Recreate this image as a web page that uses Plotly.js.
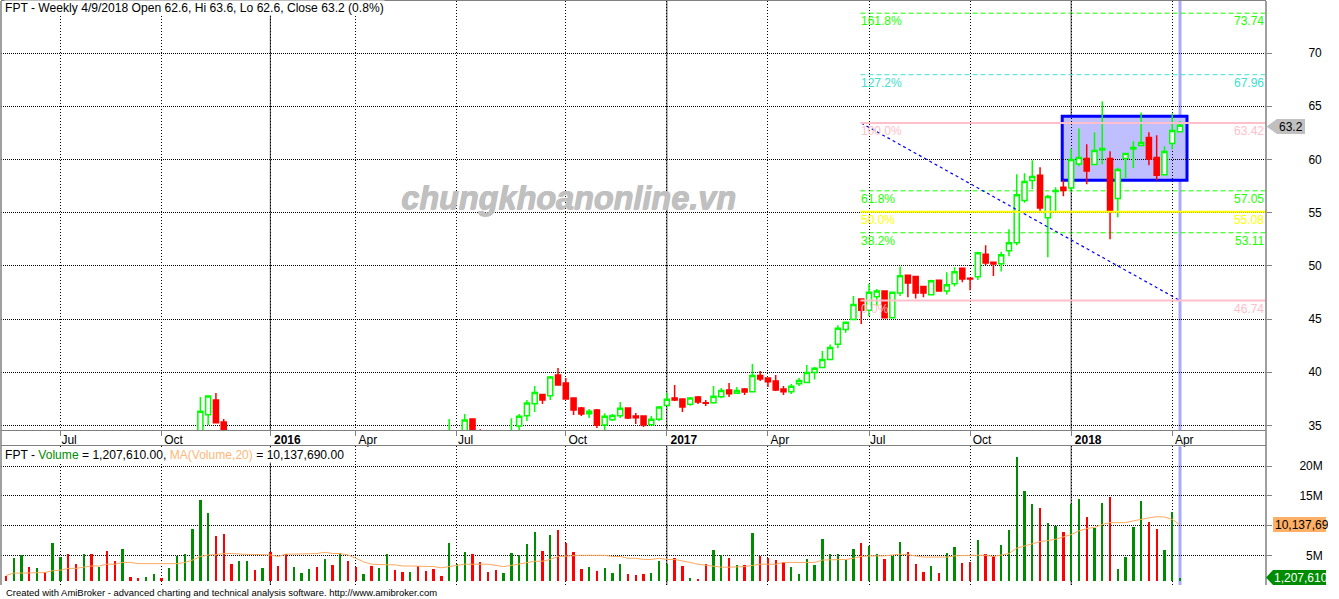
<!DOCTYPE html>
<html><head><meta charset="utf-8">
<script src="https://cdn.plot.ly/plotly-3.0.1.min.js"></script>
<style>html,body{margin:0;padding:0;background:#fff;overflow:hidden}#c{width:1339px;height:599px}</style>
</head><body><div id="c"></div>
<script>
const dates=['2015-05-11','2015-05-18','2015-05-25','2015-06-01','2015-06-08','2015-06-15','2015-06-22','2015-06-29','2015-07-06','2015-07-13','2015-07-20','2015-07-27','2015-08-03','2015-08-10','2015-08-17','2015-08-24','2015-08-31','2015-09-07','2015-09-14','2015-09-21','2015-09-28','2015-10-05','2015-10-12','2015-10-19','2015-10-26','2015-11-02','2015-11-09','2015-11-16','2015-11-23','2015-11-30','2015-12-07','2015-12-14','2015-12-21','2015-12-28',
'2016-01-04','2016-01-11','2016-01-18','2016-01-25','2016-02-01','2016-02-15','2016-02-22','2016-02-29','2016-03-07','2016-03-14','2016-03-21','2016-03-28','2016-04-04','2016-04-11','2016-04-18','2016-04-25','2016-05-02','2016-05-09','2016-05-16','2016-05-23','2016-05-30','2016-06-06','2016-06-13','2016-06-20','2016-06-27','2016-07-04','2016-07-11','2016-07-18','2016-07-25','2016-08-01','2016-08-08','2016-08-15','2016-08-22','2016-08-29','2016-09-05','2016-09-12','2016-09-19','2016-09-26','2016-10-03','2016-10-10','2016-10-17','2016-10-24','2016-10-31','2016-11-07','2016-11-14','2016-11-21','2016-11-28','2016-12-05','2016-12-12','2016-12-19','2016-12-26',
'2017-01-02','2017-01-09','2017-01-16','2017-01-23','2017-01-30','2017-02-06','2017-02-13','2017-02-20','2017-02-27','2017-03-06','2017-03-13','2017-03-20','2017-03-27','2017-04-03','2017-04-10','2017-04-17','2017-04-24','2017-05-01','2017-05-08','2017-05-15','2017-05-22','2017-05-29','2017-06-05','2017-06-12','2017-06-19','2017-06-26','2017-07-03','2017-07-10','2017-07-17','2017-07-24','2017-07-31','2017-08-07','2017-08-14','2017-08-21','2017-08-28','2017-09-04','2017-09-11','2017-09-18','2017-09-25','2017-10-02','2017-10-09','2017-10-16','2017-10-23','2017-10-30','2017-11-06','2017-11-13','2017-11-20','2017-11-27','2017-12-04','2017-12-11','2017-12-18','2017-12-25',
'2018-01-01','2018-01-08','2018-01-15','2018-01-22','2018-01-29','2018-02-05','2018-02-12','2018-02-19','2018-02-26','2018-03-05','2018-03-12','2018-03-19','2018-03-26','2018-04-02','2018-04-09'];

const N25=[null,null,null,null,null,null,null,null,null,null,null,null,null,null,null,null,null,null,null,null,null,null,null,null,null];
const N28=[null,null,null,null,null,null,null,null,null,null,null,null,null,null,null,null,null,null,null,null,null,null,null,null,null,null,null,null];
const opens=[...N25,34.1,36.0,37.39,35.33,...N28,33.9,null,34.3,35.61,34.4,null,null,null,34.0,34.95,35.92,37.05,37.92,37.8,39.74,38.99,37.58,36.64,36.11,36.45,35.04,35.54,35.92,36.64,35.89,35.89,35.07,35.58,36.89,37.58,37.49,36.99,37.67,37.14,37.14,37.71,38.33,38.02,38.43,38.18,39.71,39.46,39.18,38.43,38.18,38.93,39.05,39.99,40.46,41.21,42.63,44.03,44.97,46.88,45.82,47.1,47.64,45.13,47.45,49.11,49.01,48.07,47.29,48.64,47.63,48.32,49.77,48.83,48.98,51.08,50.33,50.2,51.43,52.18,56.13,58.01,58.51,54.53,56.98,57.38,57.32,59.58,60.08,59.52,60.89,60.08,56.32,60.08,60.99,61.3,62.05,60.17,58.57,61.49,62.6];
const highs=[...N25,37.67,37.77,38.05,35.61,...N28,35.61,null,36.08,35.67,34.64,null,null,null,35.67,36.08,37.39,38.71,37.92,39.65,40.4,39.46,37.58,36.74,36.55,36.55,36.14,36.08,37.2,36.64,36.17,35.89,35.89,36.83,38.05,38.8,37.49,37.67,37.77,37.39,38.71,38.52,38.99,38.61,38.52,40.78,40.12,39.46,39.74,38.71,38.9,39.46,40.68,40.49,42.0,42.62,44.41,44.69,47.17,46.88,48.32,47.82,47.64,47.51,49.95,49.11,49.01,48.07,48.7,48.64,49.39,49.86,49.77,48.83,51.33,51.93,50.33,51.33,53.43,58.61,58.7,59.92,59.26,56.69,57.38,58.04,61.02,62.9,61.43,62.56,65.47,60.77,59.23,60.55,61.71,64.41,62.56,62.27,61.24,64.31,63.6];
const lows=[...N25,34.0,35.04,35.26,34.0,...N28,33.8,null,34.2,34.1,34.0,null,null,null,33.9,34.4,35.42,36.27,37.02,37.39,38.8,37.49,35.98,35.89,35.7,34.76,34.5,35.42,35.7,35.61,35.14,34.86,35.07,35.42,36.89,37.3,36.27,36.86,37.02,36.83,37.05,37.55,37.67,38.02,37.86,38.18,39.18,38.61,38.24,37.86,37.96,38.71,39.05,39.33,40.4,41.21,42.25,43.72,44.97,44.54,45.28,46.22,45.13,45.13,47.16,47.04,46.94,47.04,47.29,47.63,47.32,48.07,48.45,47.7,48.67,50.08,49.05,49.48,50.9,51.93,55.94,57.2,55.13,50.8,55.1,56.54,57.07,59.36,57.67,59.52,59.55,52.49,54.56,58.23,59.2,61.3,59.45,58.04,58.57,60.93,62.6];
const closes=[...N25,36.33,37.77,35.26,34.1,...N28,34.4,null,35.51,34.2,34.2,null,null,null,34.4,35.86,37.11,38.11,37.39,39.55,38.8,37.49,36.45,36.08,36.33,35.04,35.86,35.95,36.61,35.7,35.73,35.04,35.58,36.74,37.46,37.39,36.74,37.58,37.2,37.08,37.74,38.3,37.99,38.3,38.14,39.71,39.37,39.11,38.33,38.18,38.68,39.24,39.99,40.37,41.21,42.34,44.13,44.69,46.38,45.82,47.51,47.64,45.13,47.51,49.08,48.39,47.45,47.45,48.61,47.63,48.23,49.45,48.76,48.76,51.24,50.27,50.17,51.05,52.18,56.69,57.92,58.39,55.44,56.51,57.07,57.07,59.99,60.17,58.92,60.83,61.02,55.1,59.05,60.55,61.11,61.58,60.05,58.51,60.74,62.71,63.2];

const volumeM=[1.5,4.5,5.0,3.0,2.8,2.2,7.1,4.7,5.3,3.5,5.2,5.2,3.1,5.7,4.0,6.0,1.3,1.1,1.3,1.8,1.1,2.8,4.9,5.3,9.5,14.3,12.2,8.2,8.6,3.6,4.0,4.0,2.5,2.8,5.5,3.2,5.2,3.0,2.1,2.7,3.0,4.4,3.4,5.4,4.0,3.0,1.9,3.2,2.9,5.2,2.5,2.2,2.2,3.2,2.4,2.7,1.5,7.1,3.5,5.6,5.2,3.9,2.2,2.5,2.0,5.4,5.1,6.9,8.9,5.7,8.4,9.3,7.1,5.6,2.7,3.0,2.4,2.9,2.0,3.5,1.9,1.7,1.9,2.0,4.0,3.5,4.5,3.2,1.2,1.0,3.5,5.9,5.1,4.5,3.4,3.4,8.8,4.9,4.5,4.2,3.9,3.0,1.9,4.4,3.4,7.7,5.2,5.2,4.2,6.1,7.1,6.6,5.2,4.4,4.9,7.2,5.6,3.5,2.2,3.2,2.0,5.4,6.4,3.7,3.9,7.6,5.2,4.9,6.7,9.3,21.5,15.8,13.6,13.0,10.4,9.9,8.9,13.6,14.5,11.4,9.6,13.8,14.8,2.7,4.7,9.8,14.1,10.6,9.4,5.9,12.3,1.20761];
const volumeUp=[0,1,1,0,1,0,1,1,0,0,1,0,1,0,0,1,0,0,1,1,0,1,1,1,1,1,1,0,0,0,1,1,0,1,0,0,0,1,1,1,0,1,0,1,0,0,1,0,1,1,0,0,1,0,0,0,0,1,1,1,0,0,0,0,1,1,1,1,1,0,1,0,0,0,0,1,0,1,1,1,0,0,0,1,1,1,0,0,1,0,0,1,1,0,1,0,1,0,0,0,0,1,1,1,1,1,1,1,1,1,0,1,1,0,1,1,0,0,0,1,0,1,1,0,0,1,0,0,1,1,1,1,1,0,1,1,0,1,1,0,1,1,0,1,1,1,1,0,0,1,1,1];
const volumeMA=[1.6,2.0,2.0,2.0,2.1,2.1,2.4,2.5,2.8,2.8,3.0,3.2,3.2,3.5,3.5,3.8,3.8,3.6,3.6,3.6,3.6,3.6,3.6,3.8,4.2,4.8,5.05,5.1,5.3,5.3,5.2,5.15,5.15,5.05,5.05,4.8,5.2,5.2,5.2,5.3,5.3,5.5,5.3,5.3,5.05,4.5,3.9,3.5,3.4,3.4,3.4,3.2,3.2,3.2,3.1,3.1,2.9,3.1,3.4,3.5,3.5,3.5,3.5,3.3,3.1,3.3,3.5,3.8,4.0,4.0,4.3,4.8,4.9,4.9,5.0,5.0,5.0,5.0,4.8,4.8,4.5,4.5,4.3,4.3,4.5,4.3,4.3,4.1,3.8,3.5,3.3,3.1,3.0,3.0,3.0,3.1,3.3,3.5,3.5,3.5,3.8,3.8,3.8,3.8,3.8,4.2,4.2,4.2,4.3,4.5,4.8,4.9,4.9,4.9,5.05,5.2,5.1,4.9,4.7,4.7,4.7,4.7,4.9,5.0,5.0,5.0,5.0,4.8,5.0,5.3,6.2,6.6,7.0,7.3,7.5,7.7,8.1,8.5,9.1,9.5,9.7,10.2,10.5,10.5,10.5,10.8,11.1,11.3,11.5,11.45,11.05,10.13769];

const xTickDates=['2015-06-29','2015-09-28','2016-01-04','2016-03-28','2016-06-27','2016-10-03','2017-01-02','2017-04-03','2017-07-03','2017-10-02','2018-01-01','2018-04-02'];
const xTickText=['Jul\u00a0\u00a0','Oct','\u00a0\u00a0\u00a0<b>2016</b>','Apr','Jul\u00a0\u00a0','Oct','\u00a0\u00a0\u00a0<b>2017</b>','Apr','Jul\u00a0\u00a0','Oct','\u00a0\u00a0\u00a0<b>2018</b>','Apr'];
const yearDates=['2016-01-04','2017-01-02','2018-01-01'];
const priceTicks=[35,40,45,50,55,60,65,70];
const volumeTicks=[5,10,15,20];
const volumeTickText=['\u00a0\u00a05M','','15M','20M'];

const fibLevels=[73.74,67.96,63.42,57.05,55.08,53.11,46.74];
const fibPercents=['161.8%','127.2%','100.0%','61.8%','50.0%','38.2%','0.0%'];
const fibValueText=['73.74','67.96','63.42','57.05','55.08','53.11','46.74'];
const fibColors=['#1cff00','#40e0d0','#ffc0cb','#1cff00','#ffff00','#1cff00','#ffc0cb'];
const fibStartDate='2017-06-26';
const trendDates=['2017-06-26','2018-04-09'];
const trendPrices=[63.42,46.74];
const boxPrices=[58.04,64.06];
const cursorDate='2018-04-09';

const GREEN='#008c00',RED='#ff0000',GRAY='#808080';
const FONT='Liberation Sans, Arial, sans-serif';
const L=1,R=1266,T=1,B=585;
const px=x=>(x-L)/(R-L), py=y=>(B-y)/(B-T);
const idx=d=>dates.indexOf(d);
const xRange=[-0.643,162.06];
const BAR_FLOOR=0.67;

const dotY='1px,1px', dotX='1px,2px';
const traces=[
 {type:'bar',x:dates,y:volumeM.map(v=>v-BAR_FLOOR),base:BAR_FLOOR,xaxis:'x2',yaxis:'y2',width:0.3,
  marker:{color:volumeUp.map(u=>u?GREEN:RED),line:{width:0}},hoverinfo:'skip',showlegend:false},
 {type:'scatter',mode:'lines',x:dates,y:volumeMA,xaxis:'x2',yaxis:'y2',line:{color:'#ffa85c',width:1},hoverinfo:'skip',showlegend:false},
 {type:'candlestick',x:dates,open:opens,high:highs,low:lows,close:closes,xaxis:'x',yaxis:'y',whiskerwidth:0,
  increasing:{line:{color:'#00ff00',width:1.5},fillcolor:'#ffffff'},
  decreasing:{line:{color:'#ff0000',width:1.5},fillcolor:'#ff0000'},hoverinfo:'skip',showlegend:false},
 {type:'scatter',mode:'lines',x:trendDates,y:trendPrices,xaxis:'x',yaxis:'y',line:{color:'#0000ff',width:1.2,dash:'3px,3px'},hoverinfo:'skip',showlegend:false}
];

const shapes=[];
shapes.push({type:'rect',xref:'x',yref:'y',x0:135.85,x1:151.9,y0:boxPrices[0],y1:boxPrices[1],fillcolor:'#bfbfff',line:{color:'#0000ff',width:3},layer:'below'});
['y','y2'].forEach(a=>{
 shapes.push({type:'line',xref:'x',yref:a+' domain',x0:idx(cursorDate),x1:idx(cursorDate),y0:0,y1:1,line:{color:'#aaaaff',width:3},layer:'below'});
 yearDates.forEach(d=>shapes.push({type:'line',xref:'x',yref:a+' domain',x0:idx(d),x1:idx(d),y0:0,y1:1,line:{color:'#404040',width:1},layer:'below'}));
});
fibLevels.forEach((lv,i)=>{
 const solid=(i===2||i===4||i===6);
 shapes.push({type:'line',xref:'x',yref:'y',x0:idx(fibStartDate)-0.1,x1:xRange[1],y0:lv,y1:lv,
  line:{color:fibColors[i],width:solid?2:1,dash:solid?'solid':'5px,3px'},layer:solid?'above':'below'});
});
shapes.push({type:'line',xref:'paper',yref:'paper',x0:0,x1:0,y0:0,y1:1,line:{color:GRAY,width:1.5}});
shapes.push({type:'line',xref:'paper',yref:'paper',x0:1,x1:1,y0:0,y1:1,line:{color:GRAY,width:1.5}});
const flag=(x0,xTip,x1,y0,y1,c)=>shapes.push({type:'path',xref:'paper',yref:'paper',fillcolor:c,line:{width:0},
 path:`M ${px(xTip)} ${py((y0+y1)/2)} L ${px(x0)} ${py(y0)} L ${px(x1)} ${py(y0)} L ${px(x1)} ${py(y1)} L ${px(x0)} ${py(y1)} Z`});
flag(1277,1266.5,1305,119,134,'#c0c0c0');
flag(1273,1273,1326,517,532,'#ffb066');
flag(1273,1266,1326,570,585,GREEN);

const ann=[];
const txt=(x,y,text,o={})=>ann.push(Object.assign({xref:'paper',yref:'paper',x:px(x),y:py(y),text,showarrow:false,xanchor:'left',yanchor:'middle',borderpad:0,
   font:{family:FONT,size:o.size||12,color:o.color||'#000'}},o.extra||{}));
txt(4,8,'FPT - Weekly 4/9/2018 Open 62.6, Hi 63.6, Lo 62.6, Close 63.2 (0.8%)',{size:12.1,extra:{bgcolor:'#ffffff'}});
txt(4,454.5,'FPT - <span style="color:#008c00">Volume</span> = 1,207,610.00, <span style="color:#ffb87a">MA(Volume,20)</span> = 10,137,690.00',{size:12.08,extra:{bgcolor:'#ffffff'}});
txt(5,592.5,'Created with AmiBroker - advanced charting and technical analysis software. http://www.amibroker.com',{size:9.45,color:'#000'});
fibLevels.forEach((lv,i)=>{
 ann.push({xref:'x',yref:'y',x:idx(fibStartDate)-0.1,y:lv,yshift:-8,text:fibPercents[i],showarrow:false,xanchor:'left',yanchor:'middle',borderpad:0,font:{family:FONT,size:12,color:fibColors[i]}});
 ann.push({xref:'paper',yref:'y',x:px(1265),y:lv,yshift:-8,text:fibValueText[i],showarrow:false,xanchor:'right',yanchor:'middle',borderpad:0,font:{family:FONT,size:12,color:fibColors[i]}});
});
ann.push({xref:'paper',yref:'paper',x:px(568.5),y:py(198),text:'<b><i>chungkhoanonline.vn</i></b>',showarrow:false,xanchor:'center',yanchor:'middle',
 font:{family:FONT,size:32.4,color:'#c0c0c0',shadow:'1px 0px 0px #c0c0c0, 0px 1px 0px #c0c0c0'}});
txt(1277.5,126.5,'63.2');
ann.push({xref:'paper',yref:'paper',x:px(1273),y:py(524.5),width:53,height:15,text:'10,137,690',align:'left',showarrow:false,xanchor:'left',yanchor:'middle',borderpad:0,font:{family:FONT,size:12,color:'#000'},xshift:1});
ann.push({xref:'paper',yref:'paper',x:px(1273),y:py(577.5),width:53,height:15,text:'1,207,610',align:'left',showarrow:false,xanchor:'left',yanchor:'middle',borderpad:0,font:{family:FONT,size:12,color:'#fff'}});

const layout={
 width:1339,height:599,margin:{l:L,r:1339-R,t:T,b:599-B},paper_bgcolor:'#fff',plot_bgcolor:'#fff',
 font:{family:FONT,size:12,color:'#000'},showlegend:false,boxgap:0.35,boxgroupgap:0,bargap:0,
 xaxis:{type:'category',categoryorder:'array',categoryarray:dates,anchor:'y',range:xRange,autorange:false,rangeslider:{visible:false},
   tickmode:'array',tickvals:xTickDates,ticktext:xTickText,ticks:'outside',ticklen:5,tickcolor:GRAY,tickwidth:1,
   ticklabelshift:12,ticklabelstandoff:-6,showgrid:true,gridcolor:'#000',griddash:dotX,gridwidth:1,
   showline:true,linecolor:GRAY,linewidth:1,mirror:true,zeroline:false},
 xaxis2:{type:'category',categoryorder:'array',categoryarray:dates,anchor:'y2',side:'top',matches:'x',range:xRange,autorange:false,
   tickmode:'array',tickvals:xTickDates,ticktext:xTickText,ticks:'',showticklabels:false,showgrid:true,gridcolor:'#000',griddash:dotX,gridwidth:1,
   showline:true,linecolor:GRAY,linewidth:1,zeroline:false},
 yaxis:{domain:[py(430),1],anchor:'x',side:'right',range:[70-(430-53)/10.643,70+(53-T)/10.643],autorange:false,
   tickmode:'array',tickvals:priceTicks,ticks:'outside',ticklen:5,tickcolor:GRAY,tickwidth:1,ticklabelstandoff:34,
   showgrid:true,gridcolor:'#000',griddash:dotY,gridwidth:1,zeroline:false,showline:false},
 yaxis2:{domain:[0,py(446.3)],anchor:'x2',side:'right',range:[0,(585-446.3)/5.94],autorange:false,
   tickmode:'array',tickvals:volumeTicks,ticktext:volumeTickText,ticks:'outside',ticklen:5,tickcolor:GRAY,tickwidth:1,ticklabelstandoff:25,
   showgrid:true,gridcolor:'#000',griddash:dotY,gridwidth:1,zeroline:false,showline:false},
 shapes,annotations:ann
};
Plotly.newPlot('c',traces,layout,{displayModeBar:false,staticPlot:true});
</script></body></html>
